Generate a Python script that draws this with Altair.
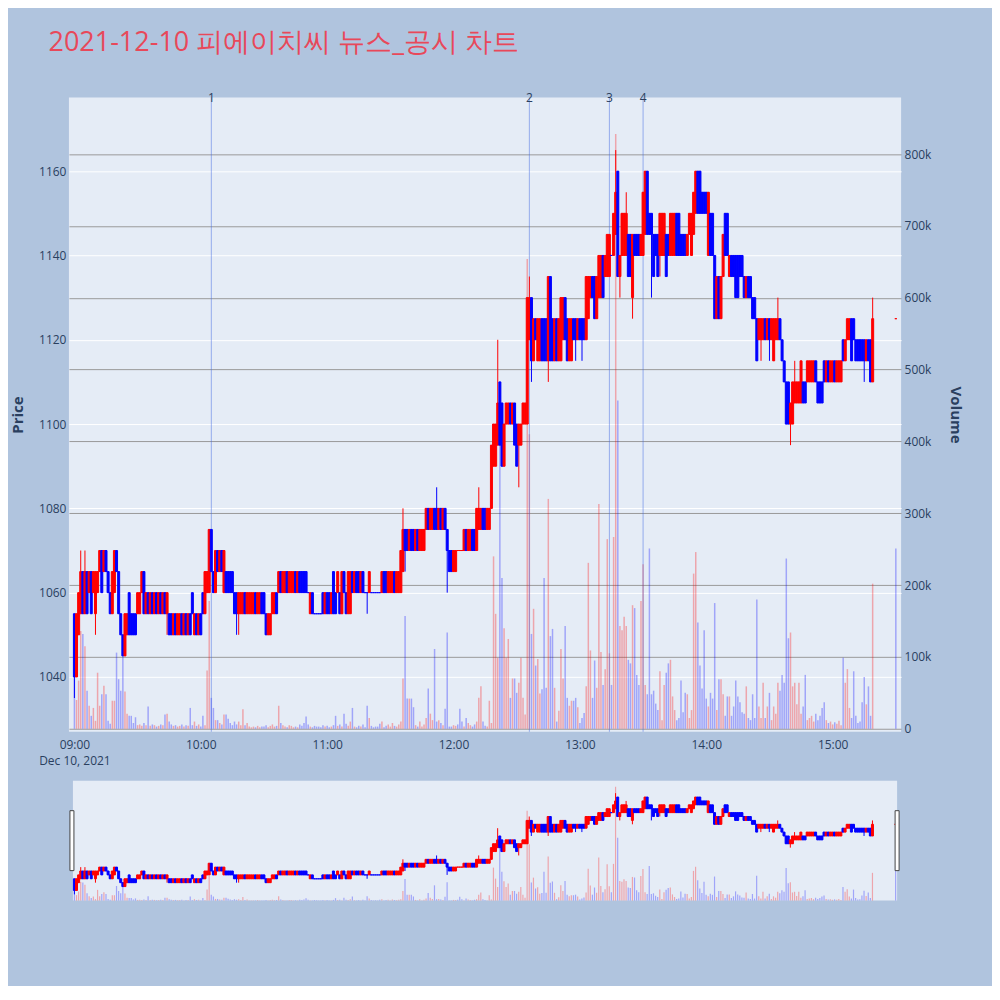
import altair as alt
import pandas as pd

TITLE = "2021-12-10 피에이치씨 뉴스_공시 차트"

# minute index from 09:00 (0..379 regular session, 390 = 15:30 closing auction)
MINUTES = list(range(380)) + [390]

OPEN = [
    1055,1040,1050,1055,1065,1055,1065,1060,1065,1060,
    1055,1060,1065,1070,1065,1070,1065,1060,1055,1060,
    1070,1065,1055,1050,1045,1050,1060,1055,1055,1055,
    1055,1055,1060,1065,1055,1060,1055,1060,1055,1060,
    1055,1060,1055,1060,1055,1055,1055,1050,1055,1050,
    1050,1055,1050,1055,1050,1055,1060,1050,1055,1050,
    1055,1060,1055,1060,1060,1075,1065,1060,1070,1065,
    1070,1060,1065,1065,1065,1065,1060,1060,1055,1055,
    1055,1060,1055,1055,1055,1055,1060,1055,1055,1060,
    1060,1055,1050,1050,1055,1055,1060,1060,1065,1060,
    1060,1065,1060,1060,1060,1065,1060,1065,1065,1065,
    1065,1060,1055,1060,1055,1055,1055,1055,1060,1055,
    1060,1060,1055,1065,1060,1060,1060,1055,1065,1060,
    1055,1055,1065,1060,1065,1065,1060,1065,1060,1060,
    1060,1060,1060,1060,1060,1060,1060,1065,1065,1060,
    1060,1060,1065,1060,1060,1060,1065,1075,1075,1070,
    1075,1075,1070,1075,1070,1070,1070,1075,1080,1075,
    1075,1080,1080,1075,1080,1075,1080,1075,1070,1070,
    1065,1065,1070,1070,1070,1070,1075,1070,1070,1075,
    1075,1070,1075,1075,1080,1080,1075,1075,1080,1090,
    1090,1095,1110,1105,1090,1100,1100,1105,1100,1105,
    1100,1095,1095,1100,1100,1100,1120,1130,1115,1125,
    1115,1115,1125,1125,1125,1115,1135,1125,1115,1125,
    1115,1115,1120,1130,1125,1115,1115,1125,1125,1120,
    1125,1125,1125,1120,1125,1130,1135,1135,1125,1130,
    1130,1140,1135,1135,1135,1140,1140,1145,1160,1135,
    1140,1140,1140,1145,1145,1130,1145,1145,1145,1140,
    1140,1145,1160,1150,1150,1145,1145,1145,1140,1140,
    1140,1145,1145,1140,1140,1140,1150,1150,1145,1145,
    1145,1140,1145,1140,1145,1150,1160,1160,1155,1155,
    1155,1140,1150,1150,1140,1125,1135,1125,1135,1150,
    1150,1135,1140,1140,1140,1140,1140,1140,1135,1130,
    1135,1135,1130,1130,1125,1120,1120,1120,1125,1120,
    1125,1120,1115,1120,1120,1125,1120,1115,1110,1110,
    1100,1100,1105,1105,1105,1105,1110,1110,1110,1110,
    1110,1110,1115,1110,1110,1110,1115,1110,1115,1110,
    1110,1115,1110,1110,1110,1120,1115,1120,1120,1125,
    1125,1120,1120,1120,1120,1120,1115,1120,1120,1110,
    1125,
]

CLOSE = [
    1040,1055,1060,1065,1055,1065,1055,1065,1055,1065,
    1065,1065,1070,1060,1070,1065,1060,1055,1065,1070,
    1065,1055,1050,1045,1055,1055,1050,1050,1050,1050,
    1060,1060,1065,1055,1060,1055,1060,1055,1060,1055,
    1060,1055,1060,1055,1060,1050,1050,1055,1050,1055,
    1055,1050,1055,1050,1055,1050,1055,1055,1050,1055,
    1050,1055,1065,1065,1075,1065,1060,1070,1065,1070,
    1065,1070,1060,1060,1060,1060,1055,1055,1060,1060,
    1060,1055,1060,1060,1060,1060,1055,1060,1060,1055,
    1055,1050,1055,1055,1060,1060,1055,1065,1060,1065,
    1065,1060,1065,1065,1065,1060,1065,1060,1060,1060,
    1060,1060,1060,1055,1055,1055,1055,1055,1055,1060,
    1055,1055,1060,1055,1055,1065,1055,1065,1060,1055,
    1065,1065,1060,1065,1060,1060,1065,1060,1060,1060,
    1065,1060,1060,1060,1060,1060,1065,1060,1060,1065,
    1065,1065,1060,1065,1065,1070,1075,1070,1070,1075,
    1070,1070,1075,1070,1075,1075,1075,1080,1075,1080,
    1080,1075,1075,1080,1075,1080,1075,1070,1065,1065,
    1070,1070,1070,1070,1070,1075,1070,1075,1075,1070,
    1070,1080,1080,1080,1075,1075,1080,1080,1095,1100,
    1100,1105,1095,1090,1100,1105,1105,1100,1105,1095,
    1090,1100,1100,1105,1105,1130,1130,1115,1125,1120,
    1125,1125,1115,1115,1115,1135,1115,1115,1125,1115,
    1125,1130,1130,1120,1115,1125,1125,1120,1120,1125,
    1120,1120,1120,1135,1135,1135,1130,1125,1135,1140,
    1140,1130,1140,1145,1145,1140,1150,1155,1135,1140,
    1150,1150,1150,1135,1135,1145,1140,1140,1140,1145,
    1155,1160,1145,1145,1145,1135,1140,1135,1150,1150,
    1150,1135,1140,1150,1150,1150,1140,1140,1140,1140,
    1140,1145,1150,1150,1155,1160,1150,1150,1150,1150,
    1150,1155,1140,1140,1125,1135,1125,1135,1145,1140,
    1140,1140,1135,1135,1130,1130,1135,1135,1130,1135,
    1130,1130,1125,1125,1115,1125,1125,1125,1120,1125,
    1120,1125,1125,1125,1125,1120,1115,1110,1100,1100,
    1105,1110,1110,1110,1110,1115,1105,1105,1115,1115,
    1115,1115,1110,1105,1105,1105,1110,1115,1110,1115,
    1115,1110,1115,1115,1115,1115,1120,1125,1125,1115,
    1120,1115,1115,1115,1115,1115,1120,1115,1110,1125,
    1125,
]

HIGH = [
    1055,1055,1060,1070,1065,1070,1065,1065,1065,1065,
    1065,1065,1070,1070,1070,1070,1065,1060,1065,1070,
    1070,1065,1055,1050,1055,1055,1060,1055,1055,1055,
    1060,1060,1065,1065,1060,1060,1060,1060,1060,1060,
    1060,1060,1060,1060,1060,1055,1055,1055,1055,1055,
    1055,1055,1055,1055,1055,1055,1060,1055,1055,1055,
    1055,1060,1065,1065,1075,1075,1065,1070,1070,1070,
    1070,1070,1065,1065,1065,1065,1060,1060,1060,1060,
    1060,1060,1060,1060,1060,1060,1060,1060,1060,1060,
    1060,1055,1055,1055,1060,1060,1060,1065,1065,1065,
    1065,1065,1065,1065,1065,1065,1065,1065,1065,1065,
    1065,1060,1060,1060,1055,1055,1055,1055,1060,1060,
    1060,1060,1060,1065,1060,1065,1060,1065,1065,1060,
    1065,1065,1065,1065,1065,1065,1065,1065,1060,1060,
    1065,1060,1060,1060,1060,1060,1065,1065,1065,1065,
    1065,1065,1065,1065,1065,1070,1080,1075,1075,1075,
    1075,1075,1075,1075,1075,1075,1075,1080,1080,1080,
    1080,1080,1085,1080,1080,1080,1080,1075,1070,1070,
    1070,1070,1070,1070,1070,1075,1075,1075,1075,1075,
    1075,1080,1085,1080,1080,1080,1080,1080,1095,1100,
    1100,1120,1110,1105,1100,1105,1105,1105,1105,1105,
    1100,1100,1100,1105,1105,1130,1135,1130,1125,1125,
    1125,1125,1125,1125,1125,1135,1135,1125,1125,1125,
    1125,1130,1130,1130,1125,1125,1125,1125,1125,1125,
    1125,1125,1125,1135,1135,1135,1135,1135,1135,1140,
    1140,1140,1140,1145,1145,1140,1150,1165,1160,1140,
    1150,1150,1155,1145,1145,1145,1145,1145,1145,1145,
    1155,1160,1160,1150,1150,1145,1145,1145,1150,1150,
    1150,1145,1145,1150,1150,1150,1150,1150,1145,1145,
    1145,1145,1150,1150,1155,1160,1160,1160,1155,1155,
    1155,1155,1150,1150,1140,1135,1135,1135,1145,1150,
    1150,1140,1140,1140,1140,1140,1140,1140,1135,1135,
    1135,1135,1130,1130,1125,1125,1125,1125,1125,1125,
    1125,1125,1125,1125,1130,1125,1120,1115,1110,1110,
    1105,1110,1115,1110,1110,1115,1110,1110,1115,1115,
    1115,1115,1115,1110,1110,1110,1115,1115,1115,1115,
    1115,1115,1115,1115,1115,1120,1120,1125,1125,1125,
    1125,1120,1120,1120,1120,1120,1120,1120,1120,1130,
    1125,
]

LOW = [
    1035,1040,1050,1055,1055,1055,1055,1060,1055,1060,
    1050,1060,1065,1060,1065,1065,1060,1055,1055,1060,
    1065,1055,1050,1045,1045,1050,1050,1050,1050,1050,
    1055,1055,1060,1055,1055,1055,1055,1055,1055,1055,
    1055,1055,1055,1055,1050,1050,1050,1050,1050,1050,
    1050,1050,1050,1050,1050,1050,1055,1050,1050,1050,
    1050,1055,1055,1060,1060,1065,1060,1060,1065,1065,
    1065,1060,1060,1060,1060,1060,1055,1050,1050,1055,
    1055,1055,1055,1055,1055,1055,1055,1055,1055,1055,
    1055,1050,1050,1050,1055,1055,1055,1060,1060,1060,
    1060,1060,1060,1060,1060,1060,1060,1060,1060,1060,
    1060,1060,1055,1055,1055,1055,1055,1055,1055,1055,
    1055,1055,1055,1055,1055,1060,1055,1055,1060,1055,
    1055,1055,1060,1060,1060,1060,1060,1060,1060,1055,
    1060,1060,1060,1060,1060,1060,1060,1060,1060,1060,
    1060,1060,1060,1060,1060,1060,1065,1065,1070,1070,
    1070,1070,1070,1070,1070,1070,1070,1075,1075,1075,
    1075,1075,1075,1075,1075,1075,1075,1060,1065,1065,
    1065,1065,1070,1070,1070,1070,1070,1070,1070,1070,
    1070,1070,1075,1075,1075,1075,1075,1075,1080,1090,
    1090,1095,1095,1090,1090,1100,1100,1100,1100,1095,
    1090,1085,1095,1100,1100,1100,1120,1110,1115,1120,
    1115,1115,1115,1115,1115,1110,1115,1115,1115,1115,
    1115,1115,1120,1120,1115,1115,1115,1120,1115,1120,
    1120,1115,1120,1120,1125,1130,1130,1125,1125,1130,
    1130,1130,1135,1135,1135,1140,1140,1145,1135,1130,
    1140,1140,1140,1135,1135,1125,1140,1140,1140,1140,
    1140,1145,1145,1145,1130,1135,1140,1135,1135,1140,
    1140,1135,1140,1140,1140,1140,1140,1140,1140,1140,
    1140,1140,1145,1140,1145,1150,1150,1150,1150,1150,
    1150,1140,1140,1140,1125,1125,1125,1125,1135,1140,
    1140,1135,1135,1135,1130,1130,1135,1135,1130,1130,
    1130,1130,1125,1125,1115,1120,1115,1120,1120,1120,
    1115,1120,1115,1120,1120,1120,1115,1110,1100,1100,
    1095,1100,1105,1105,1105,1105,1105,1105,1110,1110,
    1110,1110,1110,1105,1105,1105,1110,1110,1110,1110,
    1110,1110,1110,1110,1110,1115,1115,1120,1120,1115,
    1120,1115,1115,1115,1115,1110,1115,1115,1110,1110,
    1125,
]

# volume in thousands of shares
VOLUME_K = [
    70,40,67,136,132,115,53,32,18,29,
    11,78,32,48,60,48,11,7,39,39,
    106,69,53,106,52,21,18,18,8,16,
    5,6,4,8,5,31,4,6,5,3,
    4,6,5,20,21,10,6,4,5,3,
    4,6,3,5,4,29,5,10,4,6,
    3,18,5,81,178,43,29,12,12,8,
    6,20,20,14,8,5,10,6,10,5,
    27,5,8,3,2,3,2,4,2,3,
    3,5,2,4,6,3,4,32,8,5,
    3,2,5,4,2,3,2,6,4,8,
    17,6,3,2,4,3,3,2,5,3,
    4,2,3,5,18,4,6,3,21,7,
    4,10,29,3,2,4,3,6,2,32,
    15,4,2,3,3,7,10,2,4,6,
    3,8,4,3,6,10,70,157,42,42,
    42,30,5,3,10,3,6,15,56,21,
    12,111,10,12,8,5,28,134,3,3,
    5,4,6,28,10,3,15,8,5,3,
    6,10,43,59,10,4,3,39,8,240,
    160,99,450,210,140,99,125,43,70,70,
    50,64,99,43,20,654,410,132,167,88,
    97,49,55,210,57,320,129,139,57,10,
    25,111,70,143,43,32,39,39,43,30,
    8,15,22,59,231,109,43,95,57,313,
    107,61,83,264,105,61,267,828,457,143,
    137,156,143,96,91,172,168,75,61,178,
    229,61,48,251,48,53,35,26,80,12,
    61,78,91,96,45,26,12,15,67,23,
    50,48,15,26,216,246,148,88,56,137,
    42,31,50,42,175,26,69,69,48,18,
    45,45,18,31,67,45,37,23,21,59,
    15,12,48,15,180,31,15,64,15,31,
    50,12,31,21,64,53,75,64,237,126,
    134,59,64,34,64,21,31,75,12,15,
    18,10,21,12,18,29,37,12,8,10,
    6,9,7,11,5,99,64,83,29,15,
    80,18,8,10,37,72,34,59,18,202,
    251,
]

EVENT_LABELS = ["1", "2", "3", "4"]
EVENT_TIMES = ["2021-12-10T10:05:00", "2021-12-10T12:36:00",
               "2021-12-10T13:14:00", "2021-12-10T13:30:00"]

PRICE_TICKS = [1040, 1060, 1080, 1100, 1120, 1140, 1160]
VOLUME_TICKS = [0, 100000, 200000, 300000, 400000, 500000, 600000, 700000, 800000]

# ---------------------------------------------------------------- table
base_time = pd.Timestamp("2021-12-10 09:00:00")
times = [(base_time + pd.Timedelta(minutes=m)).strftime("%Y-%m-%dT%H:%M:%S") for m in MINUTES]

# plotly-style candle direction (ties follow previous close / previous direction)
dirs = []
prev = "down"
for i, (o, c) in enumerate(zip(OPEN, CLOSE)):
    if c > o:
        d = "up"
    elif c < o:
        d = "down"
    else:
        pc = CLOSE[i - 1] if i > 0 else c
        d = "up" if c > pc else ("down" if c < pc else prev)
    dirs.append(d)
    prev = d

df = pd.DataFrame({
    "t": times, "open": OPEN, "close": CLOSE, "high": HIGH, "low": LOW,
    "vol": [v * 1000 for v in VOLUME_K],
    "dir": dirs,
    "vdir": ["up" if c > o else "down" for o, c in zip(OPEN, CLOSE)],
})
events = pd.DataFrame({"t": EVENT_TIMES, "label": EVENT_LABELS})
one = pd.DataFrame({"a": [0]})

RED, BLUE = "#FF0000", "#0000FF"
col_scale = alt.Scale(domain=["up", "down"], range=[RED, BLUE])
FONT = "Open Sans"
TXT = "#2a3f5f"


def dt(h, m=0, s=0):
    return alt.DateTime(year=2021, month=12, date=10, hours=h, minutes=m, seconds=s)


x_axis = alt.Axis(
    values=[dt(h) for h in range(9, 16)],
    labelExpr="hours(datum.value) == 9 ? ['09:00', 'Dec 10, 2021'] : timeFormat(datum.value, '%H:%M')",
    grid=False, domain=False, ticks=False, labelPadding=8, labelFontSize=12,
    labelColor=TXT, labelFont=FONT, labelLineHeight=16, labelFlush=False,
    labelOverlap=False,
)
X = alt.X("t:T", title=None, axis=x_axis,
          scale=alt.Scale(domain=[dt(8, 57, 24), dt(15, 32, 30)], padding=0))

price_scale = alt.Scale(domain=[1027, 1177.5], nice=False, zero=False)
vol_scale = alt.Scale(domain=[-4200, 879000], nice=False, zero=False)

# ---------------------------------------------------------------- main panel
vol = alt.Chart(df).mark_rule(strokeWidth=1.5, opacity=0.3).encode(
    x=X,
    y=alt.Y("vol:Q", scale=vol_scale,
            axis=alt.Axis(orient="right", title="Volume", values=VOLUME_TICKS,
                          labelExpr="datum.value == 0 ? '0' : format(datum.value / 1000, 'd') + 'k'",
                          grid=True, gridColor="#9a9a9a", gridWidth=1, domain=False, ticks=False,
                          labelPadding=3, labelFontSize=12, labelColor=TXT, labelFont=FONT,
                          titleFontSize=15, titleFont=FONT, titleColor=TXT, titleFontWeight="bold",
                          titlePadding=17)),
    y2=alt.datum(0),
    color=alt.Color("vdir:N", scale=col_scale, legend=None),
)

vlines = alt.Chart(events).mark_rule(color="#4169E1", opacity=0.5, strokeWidth=1).encode(x=X)
vlabels = alt.Chart(events).mark_text(baseline="middle", fontSize=12, font=FONT, color=TXT).encode(
    x=X, y=alt.value(1), text="label:N")

wick = alt.Chart(df).mark_rule(strokeWidth=1).encode(
    x=X,
    y=alt.Y("low:Q", scale=price_scale,
            axis=alt.Axis(orient="left", title="Price", values=PRICE_TICKS, format="d", grid=True,
                          gridColor="white", gridWidth=1, domain=False, ticks=False,
                          labelPadding=3, labelFontSize=12, labelColor=TXT, labelFont=FONT,
                          titleFontSize=15, titleFont=FONT, titleColor=TXT, titleFontWeight="bold",
                          titlePadding=13)),
    y2="high:Q",
    color=alt.Color("dir:N", scale=col_scale, legend=None),
)
body = alt.Chart(df).mark_bar(size=2, strokeWidth=1).encode(
    x=X,
    y=alt.Y("open:Q", scale=price_scale),
    y2="close:Q",
    color=alt.Color("dir:N", scale=col_scale, legend=None),
    stroke=alt.Stroke("dir:N", scale=col_scale, legend=None),
)

price_layer = alt.layer(vlines, wick, body, vlabels)
main = alt.layer(vol, price_layer).resolve_scale(y="independent").properties(
    width=833, height=635,
    view=alt.ViewBackground(fill="#E5ECF6", stroke=None),
)

# ---------------------------------------------------------------- range slider
XS = alt.X("t:T", axis=None,
           scale=alt.Scale(domain=[dt(8, 59, 18), dt(15, 30, 42)], range=[4, 829], padding=0))
s_price = alt.Scale(domain=[1027, 1181], nice=False, zero=False)
s_vol = alt.Scale(domain=[0, 872000], nice=False, zero=False)

s_bg = alt.Chart(one).mark_rect(color="#E5ECF6").encode(
    x=alt.value(4), x2=alt.value(829), y=alt.value(0), y2=alt.value(120))
s_vol_l = alt.Chart(df).mark_rule(strokeWidth=1.2, opacity=0.3).encode(
    x=XS, y=alt.Y("vol:Q", scale=s_vol, axis=None), y2=alt.datum(0),
    color=alt.Color("vdir:N", scale=col_scale, legend=None))
s_wick = alt.Chart(df).mark_rule(strokeWidth=1).encode(
    x=XS, y=alt.Y("low:Q", scale=s_price, axis=None), y2="high:Q",
    color=alt.Color("dir:N", scale=col_scale, legend=None))
s_body = alt.Chart(df).mark_bar(size=2, strokeWidth=1).encode(
    x=XS, y=alt.Y("open:Q", scale=s_price, axis=None), y2="close:Q",
    color=alt.Color("dir:N", scale=col_scale, legend=None),
    stroke=alt.Stroke("dir:N", scale=col_scale, legend=None))
h_left = alt.Chart(one).mark_rect(fill="white", stroke="#444444", strokeWidth=1).encode(
    x=alt.value(1), x2=alt.value(5), y=alt.value(30), y2=alt.value(90))
h_right = alt.Chart(one).mark_rect(fill="white", stroke="#444444", strokeWidth=1).encode(
    x=alt.value(827), x2=alt.value(831), y=alt.value(30), y2=alt.value(90))

slider = alt.layer(s_bg, s_vol_l, alt.layer(s_wick, s_body), h_left, h_right).resolve_scale(
    y="independent").properties(
    width=833, height=120, view=alt.ViewBackground(fill=None, stroke=None))

chart = alt.vconcat(main, slider, spacing=49, bounds="flush").properties(
    title=alt.TitleParams(TITLE, anchor="start", fontSize=27, font="Open Sans",
                          color="#E8485A", fontWeight="normal", dx=38, offset=35),
    padding={"left": 2, "top": 21, "right": 29, "bottom": 84},
).configure(background="#B0C4DE").configure_view(stroke=None)

chart.save("out.html", embed_options={"renderer": "svg", "actions": False})
